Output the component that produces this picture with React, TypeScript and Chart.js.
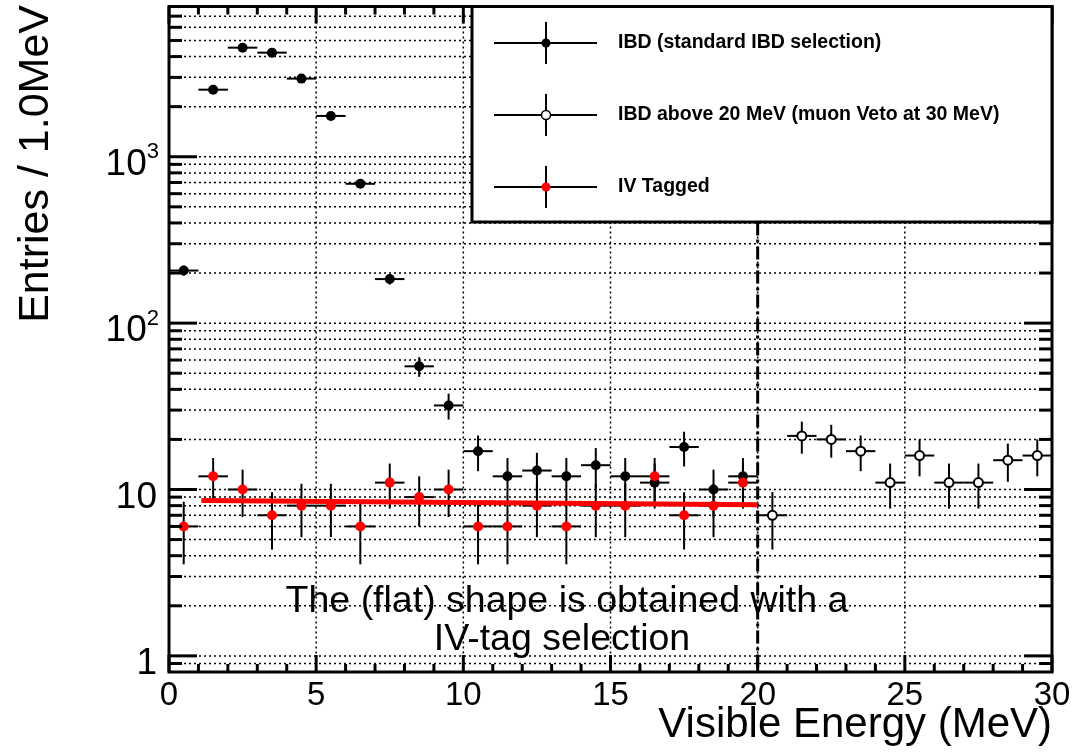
import React, { useEffect, useRef } from "react";
import { Chart, registerables } from "chart.js";

Chart.register(...registerables);

// ---------------- data ----------------
const ibdEnergy = [0.5, 1.5, 2.5, 3.5, 4.5, 5.5, 6.5, 7.5, 8.5, 9.5, 10.5, 11.5, 12.5, 13.5, 14.5, 15.5, 16.5, 17.5, 18.5, 19.5];
const ibdCounts = [207, 2530, 4525, 4224, 2949, 1759, 688, 184, 55, 32, 17, 12, 13, 12, 14, 12, 11, 18, 10, 12];

const ivEnergy = [0.5, 1.5, 2.5, 3.5, 4.5, 5.5, 6.5, 7.5, 8.5, 9.5, 10.5, 11.5, 12.5, 13.5, 14.5, 15.5, 16.5, 17.5, 18.5, 19.5];
const ivCounts = [6, 12, 10, 7, 8, 8, 6, 11, 9, 10, 6, 6, 8, 6, 8, 8, 12, 7, 8, 11];

const highEnergy = [20.5, 21.5, 22.5, 23.5, 24.5, 25.5, 26.5, 27.5, 28.5, 29.5];
const highCounts = [7, 21, 20, 17, 11, 16, 11, 11, 15, 16];

const fitEnergy = [1.1, 20];
const fitValues = [8.6, 8.1];

const binWidth = 1;
const vetoEnergy = 20;

const xMin = 0;
const xMax = 30;
const yMin = 0.8;
const yMax = 8000;

const xTickValues = [0, 5, 10, 15, 20, 25, 30];
const xTickLabels = ["0", "5", "10", "15", "20", "25", "30"];
const xGridValues = [5, 10, 15, 20, 25];
const xMinorStep = 1;

const yTickValues = [1, 10, 100, 1000];
const yTickLabels = ["1", "10", "10^2", "10^3"];
const yGridValues = [
  0.9, 1, 2, 3, 4, 5, 6, 7, 8, 9,
  10, 20, 30, 40, 50, 60, 70, 80, 90,
  100, 200, 300, 400, 500, 600, 700, 800, 900,
  1000, 2000, 3000, 4000, 5000, 6000, 7000,
];

const legendLabels = [
  "IBD (standard IBD selection)",
  "IBD above 20 MeV (muon Veto at 30 MeV)",
  "IV Tagged",
];
const noteLines = ["The (flat) shape is obtained with a", "IV-tag selection"];
const xTitle = "Visible Energy (MeV)";
const yTitle = "Entries / 1.0MeV";

// ---------------- style ----------------
const FONT = '"Liberation Sans", Arial, Helvetica, sans-serif';
const RED = "#ff0000";

function line(ctx: CanvasRenderingContext2D, x1: number, y1: number, x2: number, y2: number) {
  ctx.beginPath();
  ctx.moveTo(x1, y1);
  ctx.lineTo(x2, y2);
  ctx.stroke();
}

const rootPlugin = {
  id: "rootStyle",
  beforeDatasetsDraw(chart: any) {
    const { ctx, chartArea: a, scales } = chart;
    const x = scales.x;
    const y = scales.y;
    ctx.save();
    // dotted grid
    ctx.strokeStyle = "#000";
    ctx.lineWidth = 1.5;
    ctx.setLineDash([2, 3]);
    for (const v of xGridValues) {
      const px = x.getPixelForValue(v);
      line(ctx, px, a.top, px, a.bottom);
    }
    for (const v of yGridValues) {
      const py = y.getPixelForValue(v);
      if (py < a.top + 1 || py > a.bottom - 1) continue;
      line(ctx, a.left, py, a.right, py);
    }
    // dash-dot veto line
    ctx.setLineDash([13, 4, 3, 4]);
    ctx.lineWidth = 3;
    const vx = x.getPixelForValue(vetoEnergy);
    line(ctx, vx, a.top, vx, a.bottom);
    // error bars
    ctx.setLineDash([]);
    ctx.lineWidth = 2;
    ctx.strokeStyle = "#000";
    const series: [number[], number[]][] = [
      [ibdEnergy, ibdCounts],
      [highEnergy, highCounts],
      [ivEnergy, ivCounts],
    ];
    for (const [es, cs] of series) {
      es.forEach((e, i) => {
        const c = cs[i];
        const err = Math.sqrt(c);
        const py = y.getPixelForValue(c);
        const x1 = x.getPixelForValue(e - binWidth / 2);
        const x2 = x.getPixelForValue(e + binWidth / 2);
        line(ctx, x1, py, x2, py);
        const px = x.getPixelForValue(e);
        const lo = Math.max(c - err, yMin);
        const yTop = Math.max(y.getPixelForValue(c + err), a.top);
        const yBot = Math.min(y.getPixelForValue(lo), a.bottom);
        line(ctx, px, yTop, px, yBot);
      });
    }
    ctx.restore();
  },
  afterDraw(chart: any) {
    const { ctx, chartArea: a, scales } = chart;
    const x = scales.x;
    const y = scales.y;
    ctx.save();
    ctx.setLineDash([]);
    ctx.strokeStyle = "#000";
    ctx.fillStyle = "#000";

    // note text
    ctx.font = `37.5px ${FONT}`;
    ctx.textAlign = "center";
    ctx.textBaseline = "alphabetic";
    ctx.fillText(noteLines[0], 567, 612);
    ctx.fillText(noteLines[1], 562, 650);

    // ticks
    ctx.lineWidth = 3;
    for (let v = xMin; v <= xMax + 1e-9; v += xMinorStep) {
      const px = x.getPixelForValue(v);
      const len = Math.abs(v % 5) < 1e-9 ? 17 : 8;
      line(ctx, px, a.bottom, px, a.bottom - len);
      line(ctx, px, a.top, px, a.top + len);
    }
    for (const v of yGridValues) {
      const py = y.getPixelForValue(v);
      const len = yTickValues.includes(v) ? 28 : 13;
      line(ctx, a.left, py, a.left + len, py);
      line(ctx, a.right, py, a.right - len, py);
    }
    // frame
    ctx.strokeRect(a.left, a.top, a.right - a.left, a.bottom - a.top);

    // x tick labels
    ctx.font = `33px ${FONT}`;
    ctx.textAlign = "center";
    ctx.textBaseline = "alphabetic";
    xTickValues.forEach((v, i) => {
      ctx.fillText(xTickLabels[i], x.getPixelForValue(v), 705);
    });

    // y tick labels
    const yRight = 158;
    yTickValues.forEach((v, i) => {
      const py = y.getPixelForValue(v);
      const lab = yTickLabels[i];
      const parts = lab.split("^");
      ctx.textAlign = "left";
      if (parts.length === 2) {
        ctx.font = `22px ${FONT}`;
        const wS = ctx.measureText(parts[1]).width;
        ctx.font = `37px ${FONT}`;
        const wB = ctx.measureText(parts[0]).width;
        const x0 = yRight - wS - wB + 1;
        ctx.fillText(parts[0], x0, py + 18);
        ctx.font = `22px ${FONT}`;
        ctx.fillText(parts[1], x0 + wB, py + 1.5);
      } else {
        ctx.font = `37px ${FONT}`;
        const wB = ctx.measureText(lab).width;
        ctx.fillText(lab, yRight - 1 - wB, py + 18);
      }
    });

    // axis titles
    ctx.font = `42px ${FONT}`;
    ctx.textAlign = "right";
    ctx.textBaseline = "alphabetic";
    ctx.fillText(xTitle, a.right, 737);
    ctx.save();
    ctx.translate(48, 5);
    ctx.rotate(-Math.PI / 2);
    ctx.font = `43px ${FONT}`;
    ctx.textAlign = "right";
    ctx.fillText(yTitle, 0, 0);
    ctx.restore();

    // legend
    const lg = { left: 472, top: a.top, right: a.right, bottom: 222 };
    ctx.fillStyle = "#fff";
    ctx.fillRect(lg.left, lg.top, lg.right - lg.left, lg.bottom - lg.top);
    ctx.lineWidth = 3;
    ctx.strokeStyle = "#000";
    ctx.strokeRect(lg.left, lg.top, lg.right - lg.left, lg.bottom - lg.top);
    const rows = [43, 115, 187];
    const mx = 546;
    rows.forEach((ry, i) => {
      ctx.lineWidth = 2;
      ctx.strokeStyle = "#000";
      line(ctx, 494, ry, 597, ry);
      line(ctx, mx, ry - 21, mx, ry + 21);
      ctx.beginPath();
      ctx.arc(mx, ry, 4.5, 0, Math.PI * 2);
      if (i === 0) {
        ctx.fillStyle = "#000";
        ctx.fill();
      } else if (i === 1) {
        ctx.fillStyle = "#fff";
        ctx.fill();
        ctx.lineWidth = 1.5;
        ctx.stroke();
      } else {
        ctx.fillStyle = RED;
        ctx.fill();
      }
      ctx.fillStyle = "#000";
      ctx.font = `bold 19.5px ${FONT}`;
      ctx.textAlign = "left";
      ctx.textBaseline = "middle";
      ctx.fillText(legendLabels[i], 618, ry);
    });
    ctx.restore();
  },
};

export default function App() {
  const ref = useRef<HTMLCanvasElement>(null);
  useEffect(() => {
    document.body.style.margin = "0";
    const canvas = ref.current;
    if (!canvas) return;
    const toPts = (xs: number[], ys: number[]) => xs.map((e, i) => ({ x: e, y: ys[i] }));
    const chart = new Chart(canvas, {
      type: "scatter",
      data: {
        datasets: [
          {
            label: legendLabels[2],
            data: toPts(ivEnergy, ivCounts),
            pointRadius: 5,
            pointBackgroundColor: RED,
            pointBorderColor: RED,
            pointBorderWidth: 0,
            showLine: false,
            order: 0,
          },
          {
            label: "fit",
            data: toPts(fitEnergy, fitValues),
            showLine: true,
            borderColor: RED,
            borderWidth: 5,
            pointRadius: 0,
            order: 1,
          },
          {
            label: legendLabels[0],
            data: toPts(ibdEnergy, ibdCounts),
            pointRadius: 5,
            pointBackgroundColor: "#000",
            pointBorderColor: "#000",
            pointBorderWidth: 0,
            showLine: false,
            order: 2,
          },
          {
            label: legendLabels[1],
            data: toPts(highEnergy, highCounts),
            pointRadius: 4.5,
            pointBackgroundColor: "#fff",
            pointBorderColor: "#000",
            pointBorderWidth: 2,
            showLine: false,
            order: 3,
          },
        ],
      } as any,
      options: {
        animation: false,
        responsive: false,
        devicePixelRatio: 1,
        events: [],
        layout: { padding: { left: 169, right: 29, top: 6, bottom: 82 } },
        plugins: { legend: { display: false }, tooltip: { enabled: false } },
        scales: {
          x: { type: "linear", min: xMin, max: xMax, display: false },
          y: { type: "logarithmic", min: yMin, max: yMax, display: false },
        },
      } as any,
      plugins: [rootPlugin],
    });
    return () => chart.destroy();
  }, []);
  return (
    <canvas
      ref={ref}
      width={1081}
      height={754}
      style={{ display: "block", width: "1081px", height: "754px" }}
    />
  );
}
